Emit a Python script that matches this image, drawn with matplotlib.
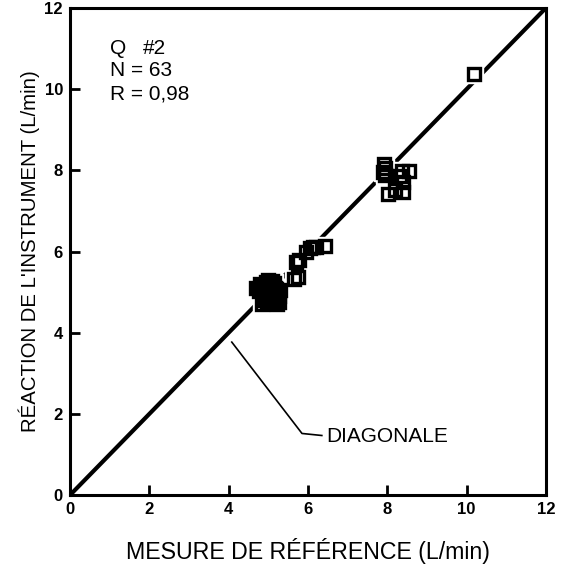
import numpy as np
import matplotlib
matplotlib.use("Agg")
import matplotlib.pyplot as plt

plt.rcParams['font.family'] = ['Liberation Sans', 'DejaVu Sans']

# reference flow vs instrument reading (L/min), 63 pairs
ref_x = [4.69, 4.76, 4.84, 4.90, 4.95, 5.00, 5.05, 5.10, 5.15, 4.85,
         4.92, 4.98, 5.04, 5.10, 5.16, 5.22, 5.26, 5.20, 5.12, 5.05,
         4.96, 5.28, 5.22, 4.88, 5.00, 5.08, 4.80, 5.18, 5.30, 4.93,
         5.02, 5.07, 5.13, 4.97, 5.19, 4.87, 5.11, 5.03, 4.99, 5.24,
         5.06, 5.14,
         5.65, 5.75, 5.70, 5.78, 5.95, 6.05, 6.12, 6.20, 6.42,
         7.92, 7.95, 7.90, 7.93, 8.37, 8.55, 8.40, 8.02, 8.19, 8.39, 8.32,
         10.18]
inst_y = [5.10, 5.02, 4.70, 4.80, 5.25, 5.30, 5.20, 5.28, 5.22, 5.15,
          5.05, 4.95, 5.08, 4.98, 5.10, 5.00, 4.90, 4.80, 4.86, 4.90,
          4.78, 4.75, 4.72, 4.92, 5.12, 5.15, 5.20, 4.95, 5.05, 4.88,
          5.02, 5.05, 5.18, 5.00, 5.08, 4.98, 4.92, 4.84, 5.14, 4.85,
          4.96, 5.02,
          5.33, 5.38, 5.75, 5.80, 6.00, 6.08, 6.12, 6.10, 6.13,
          8.15, 8.05, 7.95, 7.88, 7.98, 7.99, 7.72, 7.42, 7.52, 7.47, 7.85,
          10.38]

ticks = [0, 2, 4, 6, 8, 10, 12]

fig = plt.figure(figsize=(5.64, 5.64), dpi=100)
ax = fig.add_axes([0.124, 0.122, 0.844, 0.864])

# identity line
ax.plot([0, 12], [0, 12], color='black', lw=3.0, solid_capstyle='butt', zorder=1)

# white knock-out behind each marker, then the open squares
ax.plot(ref_x, inst_y, ls='none', marker='s', ms=12.5, mfc='white', mec='white', zorder=2)
ax.plot(ref_x, inst_y, ls='none', marker='s', ms=8, mfc='none', mec='black',
        mew=2.4, zorder=3)

ax.set_xlim(0, 12)
ax.set_ylim(0, 12)
ax.set_xticks(ticks)
ax.set_yticks(ticks)
ax.tick_params(direction='in', length=7, width=2, labelsize=12, pad=5,
               top=False, right=False)
for lab in ax.get_xticklabels() + ax.get_yticklabels():
    lab.set_fontweight('bold')
for sp in ax.spines.values():
    sp.set_linewidth(2.2)

ax.set_xlabel("MESURE DE RÉFÉRENCE (L/min)", fontsize=16.7, labelpad=15)
ax.set_ylabel("RÉACTION DE L'INSTRUMENT (L/min)", fontsize=14.7, labelpad=3)

# sample summary
ax.text(1.0, 11.0, "Q", fontsize=15, va='center', ha='left')
ax.text(1.84, 11.0, "#2", fontsize=15, va='center', ha='left')
ax.text(1.0, 10.45, "N = 63", fontsize=15, va='center', ha='left')
ax.text(1.0, 9.89, "R = 0,98", fontsize=15, va='center', ha='left')

# leader line to the diagonal label
ax.plot([4.08, 5.85, 6.35], [3.77, 1.52, 1.47], color='black', lw=1.2)
ax.text(6.45, 1.45, "DIAGONALE", fontsize=15, va='center', ha='left')

fig.savefig("out.png", dpi=100)
